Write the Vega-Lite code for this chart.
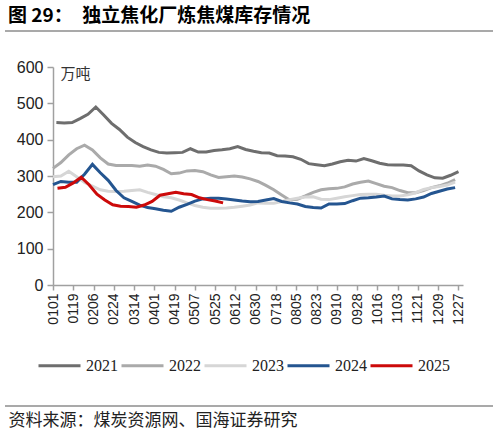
{
  "$schema": "https://vega.github.io/schema/vega-lite/v6.json",
  "width": 410,
  "height": 218,
  "autosize": {"type": "none"},
  "padding": {"left": 53, "top": 67, "right": 36, "bottom": 148},
  "background": "white",
  "title": {
    "text": "图 29：\u3000独立焦化厂炼焦煤库存情况",
    "anchor": "start",
    "frame": "group",
    "dx": -45,
    "offset": 4,
    "font": "Noto Sans CJK SC",
    "fontSize": 19,
    "fontWeight": "bold",
    "color": "#000000"
  },
  "config": {
    "view": {"stroke": null},
    "axis": {"grid": false, "domainColor": "#a0a0a0", "tickColor": "#a0a0a0", "domainWidth": 1.5, "tickWidth": 1.5},
    "legend": {
      "orient": "none",
      "legendX": -16,
      "legendY": 276,
      "direction": "horizontal",
      "symbolType": "stroke",
      "symbolSize": 1764,
      "symbolStrokeWidth": 3,
      "labelFont": "Liberation Serif",
      "labelFontSize": 16,
      "labelColor": "#222222",
      "labelOffset": 4,
      "columnPadding": -3
    }
  },
  "layer": [
    {
      "data": {
        "values": [
          {"year": "2021", "day": 3, "value": 447}, {"year": "2021", "day": 10, "value": 446}, {"year": "2021", "day": 17, "value": 447}, {"year": "2021", "day": 24, "value": 458},
          {"year": "2021", "day": 31, "value": 470}, {"year": "2021", "day": 38, "value": 490}, {"year": "2021", "day": 45, "value": 468}, {"year": "2021", "day": 52, "value": 445},
          {"year": "2021", "day": 59, "value": 428}, {"year": "2021", "day": 66, "value": 407}, {"year": "2021", "day": 73, "value": 392}, {"year": "2021", "day": 80, "value": 381},
          {"year": "2021", "day": 87, "value": 372}, {"year": "2021", "day": 94, "value": 365}, {"year": "2021", "day": 101, "value": 363}, {"year": "2021", "day": 108, "value": 364},
          {"year": "2021", "day": 115, "value": 365}, {"year": "2021", "day": 122, "value": 375}, {"year": "2021", "day": 129, "value": 366}, {"year": "2021", "day": 136, "value": 366},
          {"year": "2021", "day": 143, "value": 370}, {"year": "2021", "day": 150, "value": 372}, {"year": "2021", "day": 157, "value": 375}, {"year": "2021", "day": 164, "value": 381},
          {"year": "2021", "day": 171, "value": 373}, {"year": "2021", "day": 178, "value": 368}, {"year": "2021", "day": 185, "value": 364}, {"year": "2021", "day": 192, "value": 363},
          {"year": "2021", "day": 199, "value": 356}, {"year": "2021", "day": 206, "value": 355}, {"year": "2021", "day": 213, "value": 353}, {"year": "2021", "day": 220, "value": 346},
          {"year": "2021", "day": 227, "value": 334}, {"year": "2021", "day": 234, "value": 331}, {"year": "2021", "day": 241, "value": 328}, {"year": "2021", "day": 248, "value": 333},
          {"year": "2021", "day": 255, "value": 339}, {"year": "2021", "day": 262, "value": 343}, {"year": "2021", "day": 269, "value": 341}, {"year": "2021", "day": 276, "value": 348},
          {"year": "2021", "day": 283, "value": 342}, {"year": "2021", "day": 290, "value": 335}, {"year": "2021", "day": 297, "value": 331}, {"year": "2021", "day": 304, "value": 330},
          {"year": "2021", "day": 311, "value": 330}, {"year": "2021", "day": 318, "value": 328}, {"year": "2021", "day": 325, "value": 314}, {"year": "2021", "day": 332, "value": 303},
          {"year": "2021", "day": 339, "value": 295}, {"year": "2021", "day": 346, "value": 294}, {"year": "2021", "day": 353, "value": 302}, {"year": "2021", "day": 360, "value": 312},

          {"year": "2022", "day": 0, "value": 321}, {"year": "2022", "day": 7, "value": 337}, {"year": "2022", "day": 14, "value": 358}, {"year": "2022", "day": 21, "value": 375},
          {"year": "2022", "day": 28, "value": 385}, {"year": "2022", "day": 35, "value": 372}, {"year": "2022", "day": 42, "value": 350}, {"year": "2022", "day": 49, "value": 333},
          {"year": "2022", "day": 56, "value": 329}, {"year": "2022", "day": 63, "value": 329}, {"year": "2022", "day": 70, "value": 329}, {"year": "2022", "day": 77, "value": 327},
          {"year": "2022", "day": 84, "value": 330}, {"year": "2022", "day": 91, "value": 327}, {"year": "2022", "day": 98, "value": 318}, {"year": "2022", "day": 105, "value": 306},
          {"year": "2022", "day": 112, "value": 308}, {"year": "2022", "day": 119, "value": 314}, {"year": "2022", "day": 126, "value": 315}, {"year": "2022", "day": 133, "value": 312},
          {"year": "2022", "day": 140, "value": 303}, {"year": "2022", "day": 147, "value": 296}, {"year": "2022", "day": 154, "value": 298}, {"year": "2022", "day": 161, "value": 300},
          {"year": "2022", "day": 168, "value": 297}, {"year": "2022", "day": 175, "value": 292}, {"year": "2022", "day": 182, "value": 285}, {"year": "2022", "day": 189, "value": 274},
          {"year": "2022", "day": 196, "value": 262}, {"year": "2022", "day": 203, "value": 248}, {"year": "2022", "day": 210, "value": 234}, {"year": "2022", "day": 217, "value": 236},
          {"year": "2022", "day": 224, "value": 245}, {"year": "2022", "day": 231, "value": 255}, {"year": "2022", "day": 238, "value": 262}, {"year": "2022", "day": 245, "value": 265},
          {"year": "2022", "day": 252, "value": 266}, {"year": "2022", "day": 259, "value": 270}, {"year": "2022", "day": 266, "value": 278}, {"year": "2022", "day": 273, "value": 283},
          {"year": "2022", "day": 280, "value": 286}, {"year": "2022", "day": 287, "value": 279}, {"year": "2022", "day": 294, "value": 272}, {"year": "2022", "day": 301, "value": 268},
          {"year": "2022", "day": 308, "value": 260}, {"year": "2022", "day": 315, "value": 254}, {"year": "2022", "day": 322, "value": 254}, {"year": "2022", "day": 329, "value": 260},
          {"year": "2022", "day": 336, "value": 268}, {"year": "2022", "day": 343, "value": 273}, {"year": "2022", "day": 350, "value": 280}, {"year": "2022", "day": 357, "value": 290},

          {"year": "2023", "day": 0, "value": 298}, {"year": "2023", "day": 7, "value": 300}, {"year": "2023", "day": 14, "value": 313}, {"year": "2023", "day": 21, "value": 298},
          {"year": "2023", "day": 28, "value": 282}, {"year": "2023", "day": 35, "value": 272}, {"year": "2023", "day": 42, "value": 262}, {"year": "2023", "day": 49, "value": 258},
          {"year": "2023", "day": 56, "value": 257}, {"year": "2023", "day": 63, "value": 258}, {"year": "2023", "day": 70, "value": 260}, {"year": "2023", "day": 77, "value": 262},
          {"year": "2023", "day": 84, "value": 255}, {"year": "2023", "day": 91, "value": 249}, {"year": "2023", "day": 98, "value": 243}, {"year": "2023", "day": 105, "value": 240},
          {"year": "2023", "day": 112, "value": 234}, {"year": "2023", "day": 119, "value": 226}, {"year": "2023", "day": 126, "value": 219}, {"year": "2023", "day": 133, "value": 214},
          {"year": "2023", "day": 140, "value": 211}, {"year": "2023", "day": 147, "value": 211}, {"year": "2023", "day": 154, "value": 212}, {"year": "2023", "day": 161, "value": 214},
          {"year": "2023", "day": 168, "value": 217}, {"year": "2023", "day": 175, "value": 220}, {"year": "2023", "day": 182, "value": 226}, {"year": "2023", "day": 189, "value": 225},
          {"year": "2023", "day": 196, "value": 225}, {"year": "2023", "day": 203, "value": 230}, {"year": "2023", "day": 210, "value": 235}, {"year": "2023", "day": 217, "value": 239},
          {"year": "2023", "day": 224, "value": 242}, {"year": "2023", "day": 231, "value": 243}, {"year": "2023", "day": 238, "value": 236}, {"year": "2023", "day": 245, "value": 235},
          {"year": "2023", "day": 252, "value": 239}, {"year": "2023", "day": 259, "value": 243}, {"year": "2023", "day": 266, "value": 246}, {"year": "2023", "day": 273, "value": 249},
          {"year": "2023", "day": 280, "value": 250}, {"year": "2023", "day": 287, "value": 250}, {"year": "2023", "day": 294, "value": 247}, {"year": "2023", "day": 301, "value": 245},
          {"year": "2023", "day": 308, "value": 245}, {"year": "2023", "day": 315, "value": 248}, {"year": "2023", "day": 322, "value": 254}, {"year": "2023", "day": 329, "value": 263},
          {"year": "2023", "day": 336, "value": 268}, {"year": "2023", "day": 343, "value": 271}, {"year": "2023", "day": 350, "value": 275}, {"year": "2023", "day": 357, "value": 283},

          {"year": "2024", "day": 0, "value": 276}, {"year": "2024", "day": 7, "value": 285}, {"year": "2024", "day": 14, "value": 283}, {"year": "2024", "day": 21, "value": 283},
          {"year": "2024", "day": 28, "value": 305}, {"year": "2024", "day": 35, "value": 332}, {"year": "2024", "day": 42, "value": 309}, {"year": "2024", "day": 49, "value": 288},
          {"year": "2024", "day": 56, "value": 260}, {"year": "2024", "day": 63, "value": 240}, {"year": "2024", "day": 70, "value": 230}, {"year": "2024", "day": 77, "value": 220},
          {"year": "2024", "day": 84, "value": 213}, {"year": "2024", "day": 91, "value": 210}, {"year": "2024", "day": 98, "value": 206}, {"year": "2024", "day": 105, "value": 203},
          {"year": "2024", "day": 112, "value": 214}, {"year": "2024", "day": 119, "value": 222}, {"year": "2024", "day": 126, "value": 231}, {"year": "2024", "day": 133, "value": 237},
          {"year": "2024", "day": 140, "value": 239}, {"year": "2024", "day": 147, "value": 239}, {"year": "2024", "day": 154, "value": 237}, {"year": "2024", "day": 161, "value": 234},
          {"year": "2024", "day": 168, "value": 231}, {"year": "2024", "day": 175, "value": 229}, {"year": "2024", "day": 182, "value": 230}, {"year": "2024", "day": 189, "value": 234},
          {"year": "2024", "day": 196, "value": 238}, {"year": "2024", "day": 203, "value": 230}, {"year": "2024", "day": 210, "value": 226}, {"year": "2024", "day": 217, "value": 223},
          {"year": "2024", "day": 224, "value": 216}, {"year": "2024", "day": 231, "value": 213}, {"year": "2024", "day": 238, "value": 212}, {"year": "2024", "day": 245, "value": 223},
          {"year": "2024", "day": 252, "value": 223}, {"year": "2024", "day": 259, "value": 224}, {"year": "2024", "day": 266, "value": 232}, {"year": "2024", "day": 273, "value": 239},
          {"year": "2024", "day": 280, "value": 240}, {"year": "2024", "day": 287, "value": 242}, {"year": "2024", "day": 294, "value": 245}, {"year": "2024", "day": 301, "value": 237},
          {"year": "2024", "day": 308, "value": 235}, {"year": "2024", "day": 315, "value": 234}, {"year": "2024", "day": 322, "value": 237}, {"year": "2024", "day": 329, "value": 242},
          {"year": "2024", "day": 336, "value": 252}, {"year": "2024", "day": 343, "value": 258}, {"year": "2024", "day": 350, "value": 264}, {"year": "2024", "day": 357, "value": 268},

          {"year": "2025", "day": 4, "value": 266}, {"year": "2025", "day": 11, "value": 269}, {"year": "2025", "day": 18, "value": 281}, {"year": "2025", "day": 25, "value": 297},
          {"year": "2025", "day": 32, "value": 276}, {"year": "2025", "day": 39, "value": 250}, {"year": "2025", "day": 46, "value": 234}, {"year": "2025", "day": 53, "value": 221},
          {"year": "2025", "day": 60, "value": 217}, {"year": "2025", "day": 67, "value": 216}, {"year": "2025", "day": 74, "value": 214}, {"year": "2025", "day": 81, "value": 220},
          {"year": "2025", "day": 88, "value": 230}, {"year": "2025", "day": 95, "value": 247}, {"year": "2025", "day": 102, "value": 251}, {"year": "2025", "day": 109, "value": 255},
          {"year": "2025", "day": 116, "value": 251}, {"year": "2025", "day": 123, "value": 249}, {"year": "2025", "day": 130, "value": 240}, {"year": "2025", "day": 137, "value": 235},
          {"year": "2025", "day": 144, "value": 231}, {"year": "2025", "day": 151, "value": 226}
        ]
      },
      "mark": {"type": "line", "strokeWidth": 3},
      "encoding": {
        "x": {
          "field": "day",
          "type": "quantitative",
          "scale": {"domain": [0, 364], "nice": false},
          "axis": {
            "values": [0, 18, 36, 54, 72, 90, 108, 126, 144, 162, 180, 198, 216, 234, 252, 270, 288, 306, 324, 342, 360],
            "labelExpr": "timeFormat(datetime(2021, 0, 1 + datum.value), '%m%d')",
            "labelAngle": -90,
            "labelFont": "Liberation Sans",
            "labelFontSize": 14,
            "labelColor": "#222222",
            "labelPadding": 3,
            "tickSize": 5,
            "title": "资料来源：煤炭资源网、国海证券研究",
            "titleFont": "Noto Sans CJK SC",
            "titleFontSize": 17,
            "titleFontWeight": "normal",
            "titleColor": "#222222",
            "titleAngle": 0,
            "titleX": -45,
            "titleY": 135,
            "titleAlign": "left",
            "titleBaseline": "middle"
          }
        },
        "y": {
          "field": "value",
          "type": "quantitative",
          "scale": {"domain": [0, 600], "nice": false},
          "axis": {
            "values": [0, 100, 200, 300, 400, 500, 600],
            "labelFont": "Liberation Sans",
            "labelFontSize": 16,
            "labelColor": "#222222",
            "labelPadding": 4,
            "tickSize": 6,
            "title": "万吨",
            "titleFont": "Noto Sans CJK SC",
            "titleFontSize": 15,
            "titleFontWeight": "normal",
            "titleColor": "#333333",
            "titleAngle": 0,
            "titleX": 7,
            "titleY": 6,
            "titleAlign": "left",
            "titleBaseline": "middle"
          }
        },
        "color": {
          "field": "year",
          "type": "nominal",
          "scale": {
            "domain": ["2021", "2022", "2023", "2024", "2025"],
            "range": ["#6e6e6e", "#aaaaaa", "#d6d6d6", "#245590", "#cc0a0a"]
          },
          "legend": {"title": null}
        }
      }
    },
    {
      "data": {"values": [{}]},
      "mark": {"type": "rule", "color": "#8c8c8c", "strokeWidth": 1.5},
      "encoding": {"x": {"value": -48}, "x2": {"value": 440}, "y": {"value": -36}}
    },
    {
      "data": {"values": [{}]},
      "mark": {"type": "rule", "color": "#8c8c8c", "strokeWidth": 1.5},
      "encoding": {"x": {"value": -48}, "x2": {"value": 440}, "y": {"value": 339}}
    }
  ]
}
